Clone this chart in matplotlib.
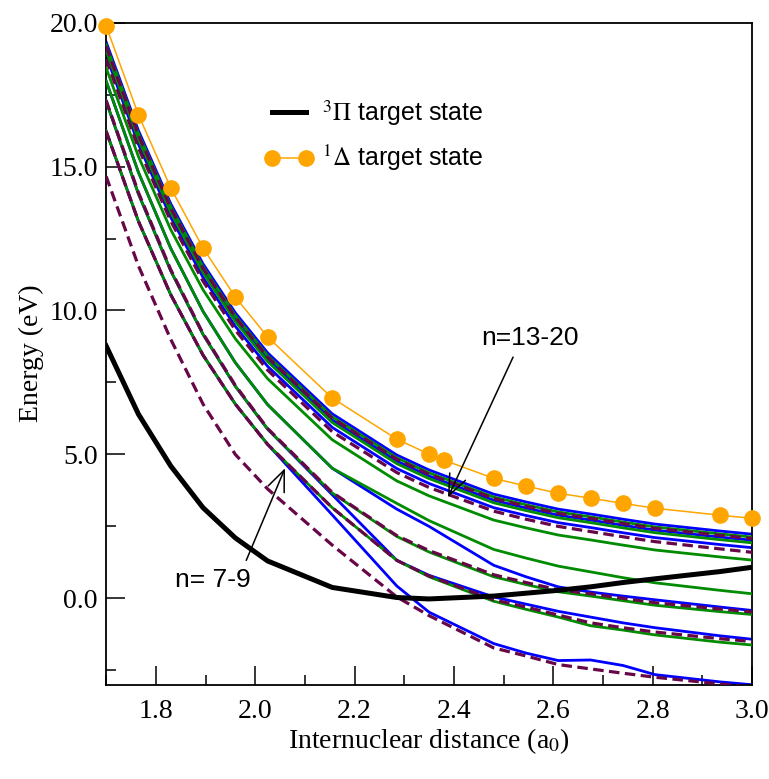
import matplotlib
matplotlib.use('Agg')
import matplotlib.pyplot as plt
from matplotlib.ticker import MultipleLocator, FormatStrFormatter

plt.rcParams['font.family'] = 'Liberation Serif'
plt.rcParams['mathtext.fontset'] = 'stix'

# internuclear distances (a0)
R = [1.7, 1.765, 1.83, 1.895, 1.96, 2.025, 2.155, 2.285, 2.35,
     2.48, 2.545, 2.61, 2.675, 2.74, 2.805, 2.935, 3.0]
R_delta = [1.7, 1.765, 1.83, 1.895, 1.96, 2.025, 2.155, 2.285, 2.35, 2.38,
           2.48, 2.545, 2.61, 2.675, 2.74, 2.805, 2.935, 3.0]

# target states (eV)
E_pi = [8.77, 6.40, 4.60, 3.15, 2.10, 1.30, 0.38, 0.03, -0.02,
        0.08, 0.18, 0.28, 0.40, 0.55, 0.68, 0.93, 1.08]
E_delta = [19.88, 16.80, 14.26, 12.17, 10.47, 9.08, 6.96, 5.53, 5.01, 4.80,
           4.17, 3.90, 3.65, 3.48, 3.30, 3.13, 2.89, 2.78]

# resonance curves, blue family
blue = [
    [19.33, 16.25, 13.71, 11.62, 9.92, 8.53, 6.41, 4.98, 4.46, 3.62, 3.35, 3.10, 2.93, 2.75, 2.58, 2.34, 2.23],
    [19.12, 16.04, 13.50, 11.41, 9.71, 8.32, 6.20, 4.77, 4.25, 3.41, 3.14, 2.89, 2.72, 2.54, 2.37, 2.13, 2.02],
    [18.86, 15.78, 13.24, 11.15, 9.45, 8.06, 5.94, 4.51, 3.99, 3.15, 2.88, 2.63, 2.46, 2.28, 2.11, 1.87, 1.76],
    [17.97, 14.80, 12.16, 9.97, 8.19, 6.73, 4.52, 3.10, 2.50, 1.15, 0.75, 0.40, 0.22, 0.08, -0.05, -0.30, -0.42],
    [17.27, 14.05, 11.38, 9.17, 7.37, 5.88, 3.60, 1.32, 0.80, 0.05, -0.20, -0.45, -0.65, -0.85, -1.02, -1.30, -1.42],
    [16.23, 13.10, 10.55, 8.45, 6.75, 5.35, 2.90, 0.43, -0.48, -1.57, -1.90, -2.16, -2.14, -2.33, -2.65, -2.90, -3.00],
]

# green family
green = [
    [19.23, 16.15, 13.61, 11.52, 9.82, 8.43, 6.31, 4.88, 4.36, 3.52, 3.25, 3.00, 2.83, 2.65, 2.48, 2.24, 2.13],
    [19.03, 15.95, 13.41, 11.32, 9.62, 8.23, 6.11, 4.68, 4.16, 3.32, 3.05, 2.80, 2.63, 2.45, 2.28, 2.04, 1.93],
    [18.43, 15.35, 12.81, 10.72, 9.02, 7.63, 5.51, 4.08, 3.56, 2.72, 2.45, 2.20, 2.03, 1.85, 1.68, 1.44, 1.33],
    [17.97, 14.80, 12.16, 9.97, 8.19, 6.73, 4.52, 3.30, 2.70, 1.70, 1.40, 1.12, 0.92, 0.72, 0.54, 0.28, 0.16],
    [17.27, 14.05, 11.38, 9.17, 7.37, 5.88, 3.66, 2.15, 1.61, 0.75, 0.48, 0.23, 0.08, -0.08, -0.24, -0.46, -0.56],
    [16.23, 13.10, 10.55, 8.45, 6.75, 5.35, 3.15, 1.32, 0.75, -0.10, -0.38, -0.65, -0.95, -1.10, -1.27, -1.52, -1.62],
]

# dashed family
dashed = [
    [19.18, 16.10, 13.56, 11.47, 9.77, 8.38, 6.26, 4.83, 4.31, 3.47, 3.20, 2.95, 2.78, 2.60, 2.43, 2.19, 2.08],
    [18.73, 15.65, 13.11, 11.02, 9.32, 7.93, 5.79, 4.37, 3.85, 3.03, 2.75, 2.50, 2.32, 2.14, 1.97, 1.72, 1.60],
    [17.30, 14.10, 11.42, 9.20, 7.40, 5.90, 3.68, 2.18, 1.66, 0.82, 0.55, 0.30, 0.16, 0.00, -0.15, -0.37, -0.47],
    [16.23, 13.10, 10.55, 8.45, 6.75, 5.35, 3.15, 1.32, 0.78, -0.05, -0.30, -0.58, -0.85, -1.02, -1.17, -1.40, -1.50],
    [14.66, 11.55, 9.00, 6.75, 5.00, 3.80, 1.85, 0.05, -0.60, -1.72, -2.00, -2.30, -2.45, -2.60, -2.74, -2.97, -3.10],
]

fig = plt.figure(figsize=(7.69, 7.79), dpi=100)
ax = fig.add_axes([0.138, 0.121, 0.840, 0.850])

for E in blue:
    ax.plot(R, E, color='#0000ff', lw=2.0, zorder=2)
for E in green:
    ax.plot(R, E, color='#008b00', lw=2.0, zorder=3)
for E in dashed:
    ax.plot(R, E, color='#670748', lw=2.3, dashes=(3.3, 1.7), zorder=4)

pi_line, = ax.plot(R, E_pi, color='black', lw=3.6, zorder=5,
                   label=r'$^{3}\Pi$ target state')
delta_line, = ax.plot(R_delta, E_delta, color='#ffa500', lw=1.1, marker='o',
                      markersize=11, zorder=6, clip_on=False,
                      label=r'$^{1}\Delta$ target state')

ax.set_xlim(1.7, 3.0)
ax.set_ylim(-3.0, 20.0)
ax.xaxis.set_major_locator(MultipleLocator(0.2))
ax.xaxis.set_minor_locator(MultipleLocator(0.1))
ax.yaxis.set_major_locator(MultipleLocator(5.0))
ax.yaxis.set_minor_locator(MultipleLocator(2.5))
ax.xaxis.set_major_formatter(FormatStrFormatter('%.1f'))
ax.yaxis.set_major_formatter(FormatStrFormatter('%.1f'))
ax.tick_params(which='both', direction='in', top=False, right=False,
               width=1.1, labelsize=20)
ax.tick_params(which='major', length=14)
ax.tick_params(which='minor', length=7)
ax.tick_params(axis='x', which='major', pad=10)
ax.tick_params(axis='y', which='major', pad=6)
for sp in ax.spines.values():
    sp.set_linewidth(1.3)

ax.set_xlabel('Internuclear distance (a$_0$)', fontsize=20, labelpad=2)
ax.set_ylabel('Energy (eV)', fontsize=20, labelpad=4)

ax.legend(handles=[pi_line, delta_line], loc='upper left',
          bbox_to_anchor=(0.21, 0.92), frameon=False, numpoints=2,
          handlelength=1.95, handletextpad=0.35, labelspacing=0.6,
          prop={'family': 'Liberation Sans', 'size': 18})

# level groups
ax.text(2.553, 9.04, 'n=13-20', fontsize=19, family='Liberation Sans',
        ha='center', va='center')
ax.annotate('', xy=(2.388, 3.51), xytext=(2.519, 8.38),
            arrowprops=dict(arrowstyle='->,head_length=0.6,head_width=0.25',
                            color='black', lw=1.1, mutation_scale=25,
                            shrinkA=0, shrinkB=0), zorder=8)
ax.text(1.915, 0.63, 'n= 7-9', fontsize=19, family='Liberation Sans',
        ha='center', va='center')
ax.annotate('', xy=(2.060, 4.52), xytext=(1.982, 1.32),
            arrowprops=dict(arrowstyle='->,head_length=0.6,head_width=0.25',
                            color='black', lw=1.1, mutation_scale=25,
                            shrinkA=0, shrinkB=0), zorder=8)

plt.savefig('out.png', dpi=100)
